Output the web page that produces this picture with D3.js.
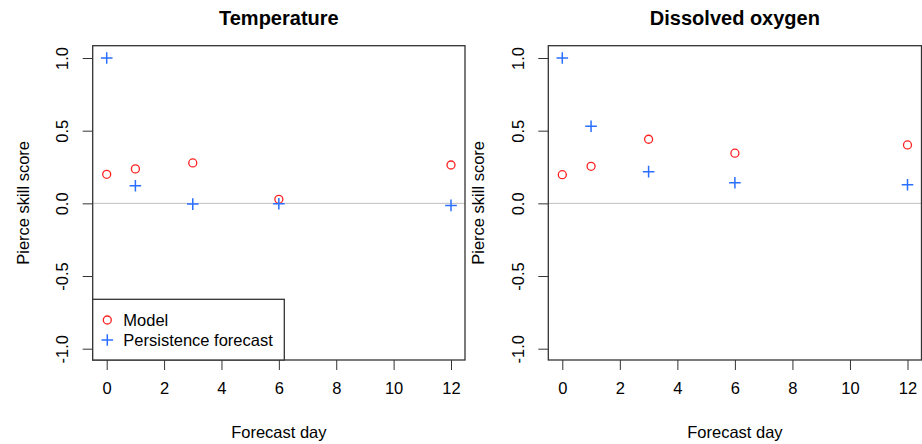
<!DOCTYPE html>
<html>
<head>
<meta charset="utf-8">
<script src="https://cdn.jsdelivr.net/npm/d3@7"></script>
<style>
  body { margin: 0; background: #fff; }
  text { font-family: "Liberation Sans", Arial, sans-serif; fill: #000; }
</style>
</head>
<body>
<div id="chart"></div>
<script>
var days = [0, 1, 3, 6, 12];
var xTicks = [0, 2, 4, 6, 8, 10, 12];
var yTicks = [-1.0, -0.5, 0.0, 0.5, 1.0];
var titles = ["Temperature", "Dissolved oxygen"];
var tempModel = [0.20, 0.237, 0.278, 0.028, 0.264];
var tempPersist = [1.0, 0.121, -0.005, -0.003, -0.014];
var doModel = [0.197, 0.255, 0.441, 0.345, 0.402];
var doPersist = [1.0, 0.53, 0.218, 0.142, 0.128];
var legendLabels = ["Model", "Persistence forecast"];

var W = 922, H = 444;
var red = "#ff2020", blue = "#2a6fff";
var fs = "16.5px";

var svg = d3.select("#chart").append("svg")
	.attr("width", W).attr("height", H);

var panels = [
	{ left: 92.7, right: 465, title: titles[0], model: tempModel, persist: tempPersist, legend: true },
	{ left: 548.3, right: 921.5, title: titles[1], model: doModel, persist: doPersist, legend: false }
];
var plotTop = 45.7, plotBottom = 360;

function plus(g, x, y, s) {
	g.append("path")
		.attr("d", "M" + (x - s) + "," + y + "H" + (x + s) + "M" + x + "," + (y - s) + "V" + (y + s))
		.attr("stroke", blue).attr("stroke-width", 1.5).attr("fill", "none");
}

panels.forEach(function(p) {
	var x = d3.scaleLinear().domain([0, 12]).range([p.left + 14, p.right - 14]);
	var y = d3.scaleLinear().domain([-1, 1]).range([348.7, 58]);
	var g = svg.append("g");

	// zero line
	g.append("line")
		.attr("x1", p.left).attr("x2", p.right)
		.attr("y1", y(0)).attr("y2", y(0))
		.attr("stroke", "#bebebe").attr("stroke-width", 1);

	// x axis
	var xa = g.append("g")
		.attr("transform", "translate(0," + plotBottom + ")")
		.call(d3.axisBottom(x).tickValues(xTicks).tickSize(10).tickPadding(12).tickFormat(d3.format("d")));
	xa.select(".domain").remove();
	xa.selectAll("line").attr("stroke", "#333").attr("stroke-width", 1);
	xa.selectAll("text").style("font-size", fs).attr("fill", "#000");

	// y axis (R style: hyphen minus, labels rotated)
	var ya = g.append("g")
		.attr("transform", "translate(" + p.left + ",0)")
		.call(d3.axisLeft(y).tickValues(yTicks).tickSize(10)
			.tickFormat(function(d) { return d.toFixed(1); }));
	ya.select(".domain").remove();
	ya.selectAll("line").attr("stroke", "#333").attr("stroke-width", 1);
	ya.selectAll("text")
		.style("font-size", fs).attr("fill", "#000")
		.attr("x", null).attr("dy", null)
		.attr("text-anchor", "middle")
		.attr("transform", "translate(-29,0) rotate(-90)")
		.attr("dominant-baseline", "middle");

	// frame
	g.append("rect")
		.attr("x", p.left).attr("y", plotTop)
		.attr("width", p.right - p.left).attr("height", plotBottom - plotTop)
		.attr("fill", "none").attr("stroke", "#333").attr("stroke-width", 1.3);

	// points
	g.selectAll("circle.model")
		.data(days).enter().append("circle")
		.attr("class", "model")
		.attr("cx", function(d) { return x(d); })
		.attr("cy", function(d, i) { return y(p.model[i]); })
		.attr("r", 4).attr("fill", "none")
		.attr("stroke", red).attr("stroke-width", 1.3);
	days.forEach(function(d, i) { plus(g, x(d), y(p.persist[i]), 5.8); });

	// titles
	g.append("text")
		.attr("x", (p.left + p.right) / 2).attr("y", 25)
		.attr("text-anchor", "middle")
		.style("font-size", "20px").style("font-weight", "bold")
		.text(p.title);
	g.append("text")
		.attr("x", (p.left + p.right) / 2).attr("y", 438)
		.attr("text-anchor", "middle")
		.style("font-size", fs)
		.text("Forecast day");
	g.append("text")
		.attr("transform", "translate(" + (p.left - 64) + "," + ((plotTop + plotBottom) / 2) + ") rotate(-90)")
		.attr("text-anchor", "middle")
		.style("font-size", fs)
		.text("Pierce skill score");

	if (p.legend) {
		var lg = g.append("g");
		lg.append("rect")
			.attr("x", p.left).attr("y", 299.3)
			.attr("width", 284.3 - p.left).attr("height", plotBottom - 299.3)
			.attr("fill", "#fff").attr("stroke", "#333").attr("stroke-width", 1.3);
		lg.append("circle")
			.attr("cx", 107.3).attr("cy", 320).attr("r", 4)
			.attr("fill", "none").attr("stroke", red).attr("stroke-width", 1.3);
		plus(lg, 107.3, 340, 5.8);
		lg.selectAll("text.leg")
			.data(legendLabels).enter().append("text")
			.attr("class", "leg")
			.attr("x", 123.3)
			.attr("y", function(d, i) { return 320 + i * 20; })
			.attr("dominant-baseline", "central")
			.style("font-size", fs)
			.text(function(d) { return d; });
	}
});
</script>
</body>
</html>
